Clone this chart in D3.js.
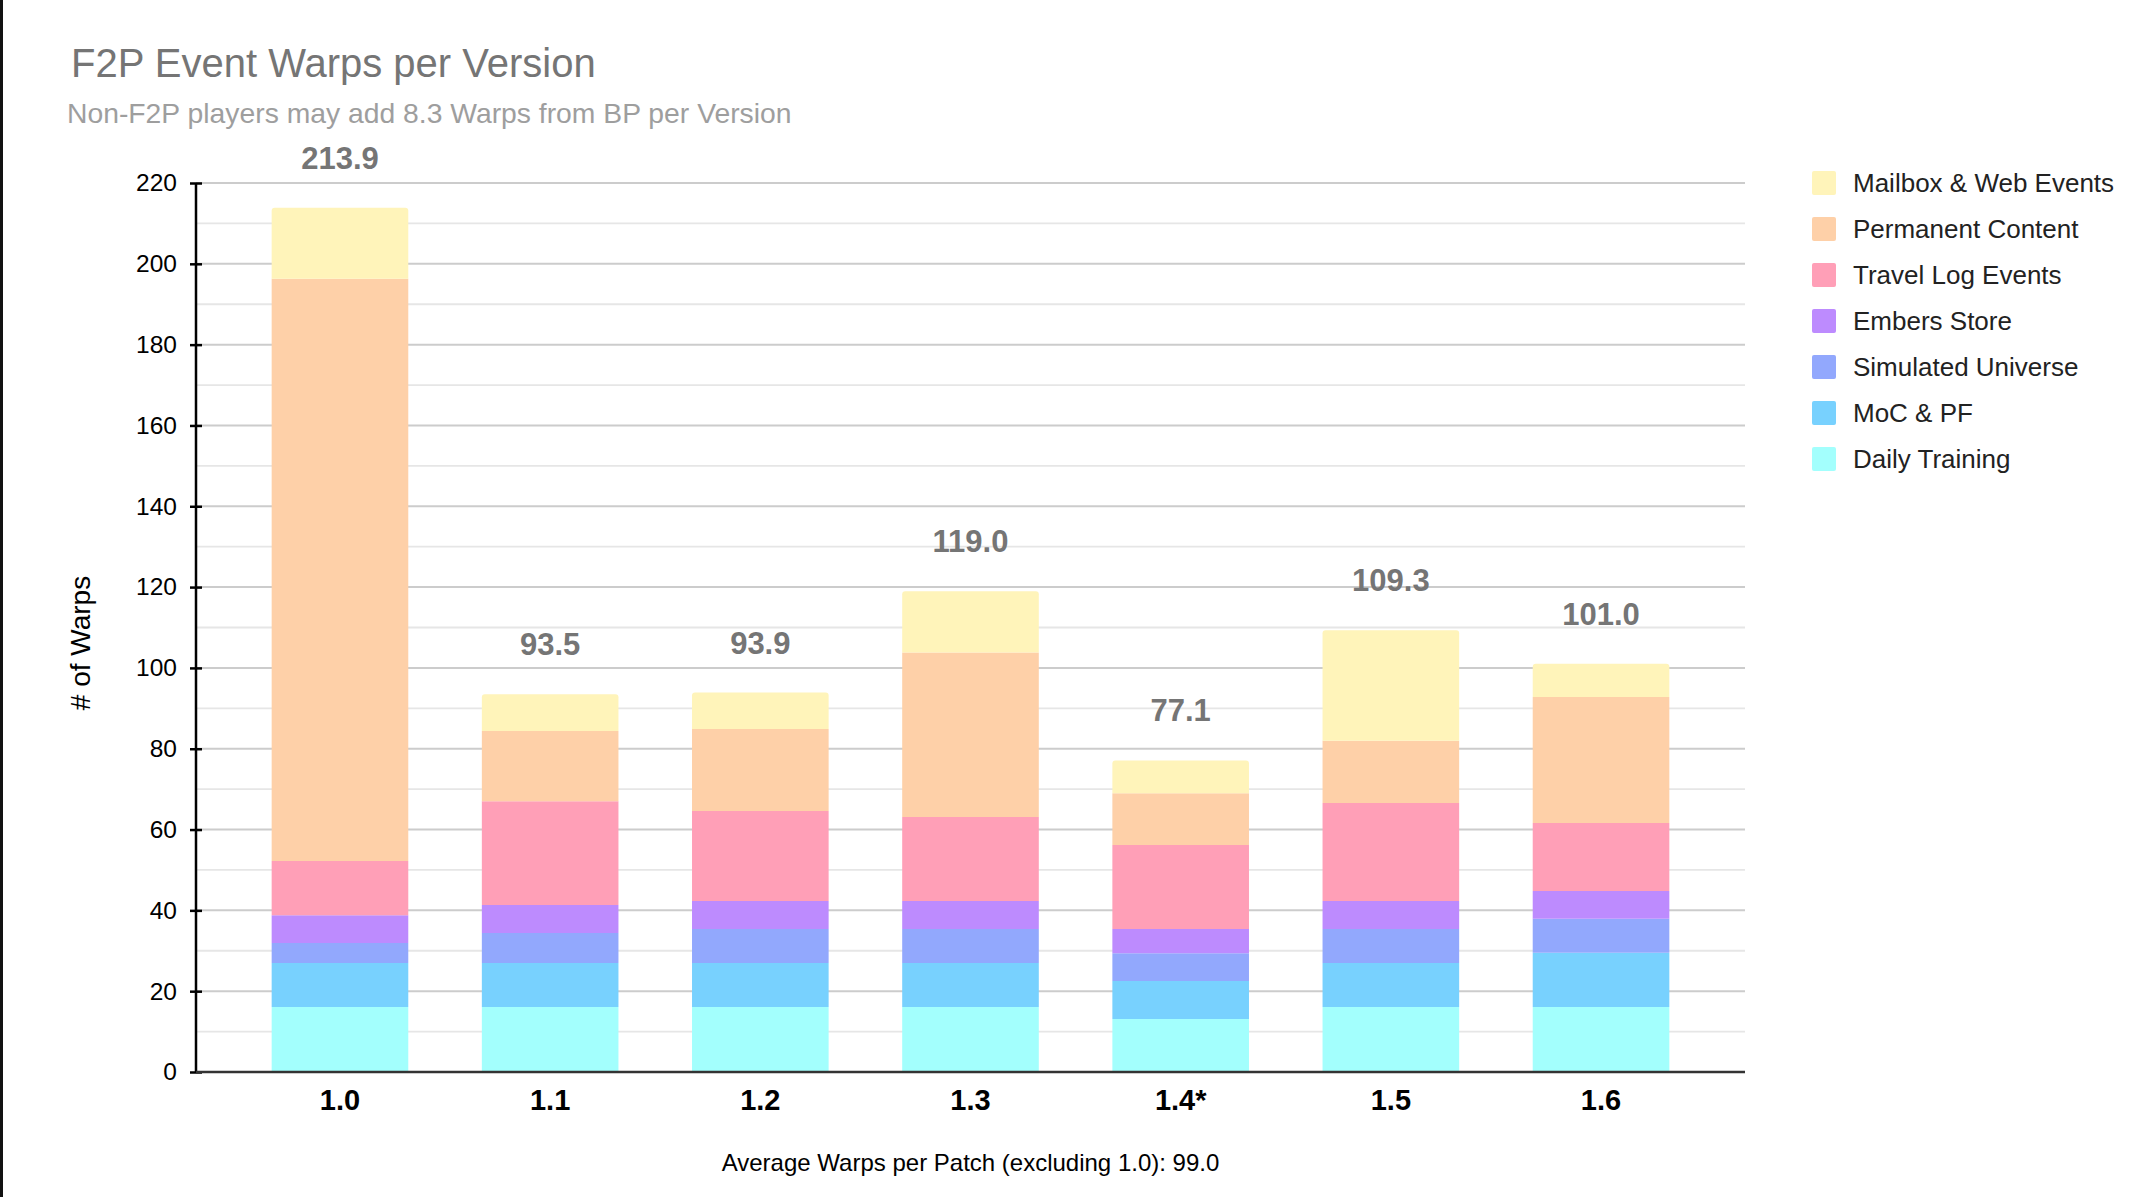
<!DOCTYPE html>
<html>
<head>
<meta charset="utf-8">
<script src="https://cdn.jsdelivr.net/npm/d3@7"></script>
<style>
  html, body { margin: 0; padding: 0; background: #fff; }
  svg { display: block; font-family: "Liberation Sans", Arial, sans-serif; }
</style>
</head>
<body>
<script>
// ---- data ----
const versions = ["1.0", "1.1", "1.2", "1.3", "1.4*", "1.5", "1.6"];
const seriesNames = ["Daily Training", "MoC & PF", "Simulated Universe", "Embers Store", "Travel Log Events", "Permanent Content", "Mailbox & Web Events"];
const dailyTraining   = [16.1, 16.1, 16.1, 16.1, 13.1, 16.1, 16.1];
const mocPf           = [10.9, 10.9, 10.9, 10.9, 9.4, 10.9, 13.4];
const simUniverse     = [4.9, 7.4, 8.4, 8.4, 6.9, 8.4, 8.4];
const embersStore     = [6.9, 6.9, 6.9, 6.9, 6.0, 6.9, 6.9];
const travelLog       = [13.4, 25.7, 22.3, 20.8, 20.8, 24.3, 16.8];
const permanent       = [144.1, 17.4, 20.3, 40.7, 12.8, 15.4, 31.2];
const mailboxWeb      = [17.6, 9.1, 9.0, 15.2, 8.1, 27.3, 8.2];
const yTicks = [0, 20, 40, 60, 80, 100, 120, 140, 160, 180, 200, 220];
const colors = ["#a3fffd", "#78d1fe", "#92a8fd", "#bd8bfe", "#ff9fb7", "#fed0a8", "#fff4ba"];

const seriesValues = [dailyTraining, mocPf, simUniverse, embersStore, travelLog, permanent, mailboxWeb];
const keys = seriesNames;
const table = versions.map((v, i) => {
  const row = { version: v };
  keys.forEach((k, j) => row[k] = seriesValues[j][i]);
  row.total = d3.sum(seriesValues, s => s[i]);
  return row;
});

const W = 2153, H = 1197;
const svg = d3.select("body").append("svg").attr("width", W).attr("height", H);

// left border
svg.append("rect").attr("x", 0).attr("y", 0).attr("width", 3).attr("height", H).attr("fill", "#111");

const x0 = 196, x1 = 1745, yTop = 183, yBot = 1072;
const x = d3.scaleBand().domain(versions).range([x0, x1]).paddingInner(0.35).paddingOuter(0.36);
const y = d3.scaleLinear().domain([0, 220]).range([yBot, yTop]);

// titles
svg.append("text").attr("x", 71).attr("y", 77).attr("font-size", 40).attr("fill", "#757575")
  .text("F2P Event Warps per Version");
svg.append("text").attr("x", 67).attr("y", 123).attr("font-size", 28.3).attr("fill", "#9e9e9e")
  .text("Non-F2P players may add 8.3 Warps from BP per Version");

// gridlines
const minor = d3.range(10, 220, 20);
svg.append("g").selectAll("line").data(minor).join("line")
  .attr("x1", x0).attr("x2", x1).attr("y1", d => y(d)).attr("y2", d => y(d))
  .attr("stroke", "#e6e6e6").attr("stroke-width", 1.8);
svg.append("g").selectAll("line").data(yTicks.filter(d => d > 0)).join("line")
  .attr("x1", x0).attr("x2", x1).attr("y1", d => y(d)).attr("y2", d => y(d))
  .attr("stroke", "#cccccc").attr("stroke-width", 2);

// stacked bars
const stack = d3.stack().keys(keys)(table);
const r = 3;
function barPath(xl, w, yt, yb, rounded) {
  if (!rounded) return `M${xl},${yb}V${yt}H${xl + w}V${yb}Z`;
  return `M${xl},${yb}V${yt + r}Q${xl},${yt} ${xl + r},${yt}H${xl + w - r}Q${xl + w},${yt} ${xl + w},${yt + r}V${yb}Z`;
}
const gBars = svg.append("g");
stack.forEach((layer, li) => {
  gBars.append("g").attr("fill", colors[li]).selectAll("path").data(layer).join("path")
    .attr("d", d => barPath(x(d.data.version), x.bandwidth(), y(d[1]), y(d[0]), li === keys.length - 1));
});

// total labels
svg.append("g").selectAll("text").data(table).join("text")
  .attr("x", d => x(d.version) + x.bandwidth() / 2)
  .attr("y", d => y(d.total) - 39)
  .attr("text-anchor", "middle").attr("font-size", 31).attr("font-weight", "bold").attr("fill", "#757575")
  .text(d => d3.format(".1f")(d.total));

// y axis
const yAxis = svg.append("g").attr("transform", `translate(${x0},0)`)
  .call(d3.axisLeft(y).tickValues(yTicks).tickSize(6).tickPadding(13));
yAxis.select(".domain").attr("stroke", "#000").attr("stroke-width", 2.5).attr("d", `M0,${yBot}V${yTop}`);
yAxis.selectAll(".tick line").attr("stroke", "#000").attr("stroke-width", 2.5).attr("x1", 6).attr("x2", -6);
yAxis.selectAll(".tick text").attr("font-size", 24.5).attr("fill", "#000").attr("font-family", "Liberation Sans, Arial, sans-serif");

// x axis
const xAxis = svg.append("g").attr("transform", `translate(0,${yBot})`)
  .call(d3.axisBottom(x).tickSize(0).tickPadding(17));
xAxis.select(".domain").attr("stroke", "#333").attr("stroke-width", 2.5).attr("d", `M${x0},0H${x1}`);
xAxis.selectAll(".tick text").attr("font-size", 29).attr("font-weight", "bold").attr("fill", "#000")
  .attr("font-family", "Liberation Sans, Arial, sans-serif");

// y axis title
svg.append("text").attr("transform", "translate(90,643) rotate(-90)").attr("text-anchor", "middle")
  .attr("font-size", 28).attr("fill", "#000").text("# of Warps");

// footer
const avg = d3.mean(table.slice(1), d => d.total);
svg.append("text").attr("x", (x0 + x1) / 2).attr("y", 1171).attr("text-anchor", "middle")
  .attr("font-size", 24).attr("fill", "#000")
  .text(`Average Warps per Patch (excluding 1.0): ${d3.format(".1f")(avg)}`);

// legend (top = last series)
const legendOrder = keys.map((k, i) => i).reverse();
const lg = svg.append("g");
legendOrder.forEach((si, row) => {
  const cy = 183 + row * 46;
  lg.append("rect").attr("x", 1812).attr("y", cy - 12).attr("width", 24).attr("height", 24)
    .attr("rx", 2).attr("fill", colors[si]);
  lg.append("text").attr("x", 1853).attr("y", cy).attr("dy", "0.35em").attr("font-size", 26)
    .attr("fill", "#222").text(keys[si]);
});
</script>
</body>
</html>
